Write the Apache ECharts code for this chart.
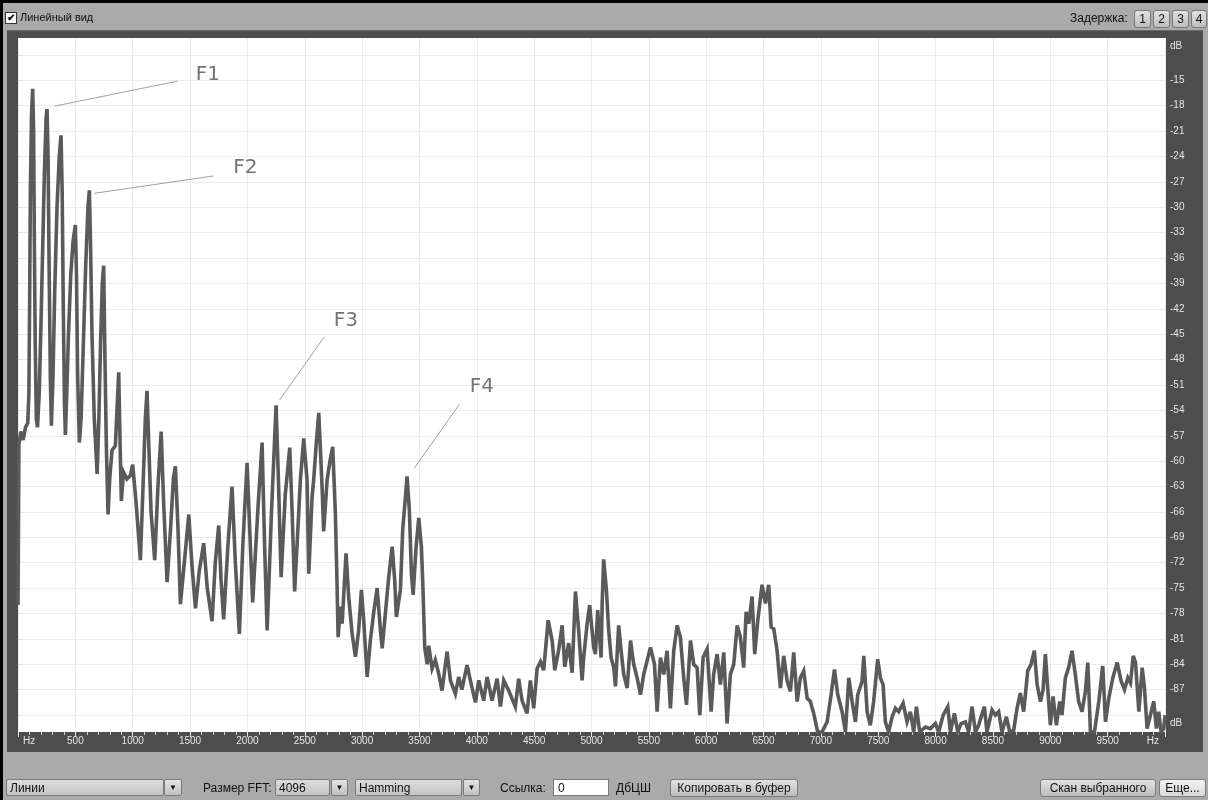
<!DOCTYPE html>
<html><head><meta charset="utf-8">
<script src="https://cdn.jsdelivr.net/npm/echarts@6/dist/echarts.min.js"></script>
<style>
html,body{margin:0;padding:0;}
body{width:1208px;height:800px;overflow:hidden;background:#aaaaaa;position:relative;font-family:"Liberation Sans",Arial,sans-serif;font-size:12px;color:#111;}
.abs{position:absolute;}
#topline{left:0;top:0;width:1208px;height:3px;background:#000;}
#leftline{left:0;top:0;width:3px;height:800px;background:#000;}
#frame{left:7px;top:30px;width:1196px;height:722px;background:#4d4d4d;border-top:1px solid #6a6a6a;box-sizing:border-box;}
#chart{left:0;top:0;width:1208px;height:800px;}
.chk{left:5px;top:12px;width:10px;height:10px;background:#fff;border:1px solid #333;font-size:10px;line-height:10px;text-align:center;font-weight:bold;color:#111;}
.lbl{white-space:nowrap;line-height:16px;}
.btn{height:16px;line-height:16px;border:1px solid #7a7a7a;border-radius:3px;background:linear-gradient(#e2e2e2,#bdbdbd);text-align:center;box-sizing:content-box;white-space:nowrap;}
.combo{height:17px;line-height:17px;border:1px solid #7a7a7a;border-radius:2px;background:linear-gradient(#dcdcdc,#c4c4c4);padding-left:3px;box-sizing:border-box;white-space:nowrap;}
.arrow{height:17px;border:1px solid #7a7a7a;border-radius:2px;background:linear-gradient(#e4e4e4,#c0c0c0);box-sizing:border-box;text-align:center;font-size:8px;line-height:16px;}
.input{height:17px;line-height:17px;border:1px solid #7a7a7a;background:#fff;padding-left:4px;box-sizing:border-box;}
</style>
</head><body>
<div class="abs" id="frame"></div>
<div class="abs" id="chart"></div>
<div class="abs" id="topline"></div>
<div class="abs" id="leftline"></div>
<div class="abs chk">✔</div>
<div class="abs lbl" style="left:20px;top:9px;font-size:11px;">Линейный вид</div>
<div class="abs lbl" style="left:1070px;top:10px;font-size:12px;">Задержка:</div>
<div class="abs btn" style="left:1134px;top:10px;width:15px;">1</div>
<div class="abs btn" style="left:1153px;top:10px;width:15px;">2</div>
<div class="abs btn" style="left:1172px;top:10px;width:15px;">3</div>
<div class="abs btn" style="left:1191px;top:10px;width:14px;">4</div>

<div class="abs combo" style="left:6px;top:779px;width:158px;">Линии</div>
<div class="abs arrow" style="left:164px;top:779px;width:18px;">▼</div>
<div class="abs lbl" style="left:203px;top:780px;">Размер FFT:</div>
<div class="abs combo" style="left:275px;top:779px;width:55px;">4096</div>
<div class="abs arrow" style="left:331px;top:779px;width:17px;">▼</div>
<div class="abs combo" style="left:355px;top:779px;width:107px;">Hamming</div>
<div class="abs arrow" style="left:463px;top:779px;width:17px;">▼</div>
<div class="abs lbl" style="left:500px;top:780px;">Ссылка:</div>
<div class="abs input" style="left:553px;top:779px;width:56px;">0</div>
<div class="abs lbl" style="left:616px;top:780px;">ДбЦШ</div>
<div class="abs btn" style="left:670px;top:779px;width:126px;">Копировать в буфер</div>
<div class="abs btn" style="left:1040px;top:779px;width:114px;">Скан выбранного</div>
<div class="abs btn" style="left:1159px;top:779px;width:45px;background:linear-gradient(#f2f2f2,#d8d8d8);">Еще...</div>

<script>
// ---- data ----
const freqHz = [0,8,25,45,65,85,95,102,108,118,128,136,142,150,160,170,185,200,215,230,245,253,262,272,282,291,305,320,340,360,375,385,395,405,413,425,440,460,480,500,510,520,535,550,570,590,610,622,632,645,665,690,705,720,735,747,758,770,785,800,820,849,866,878,890,901,920,950,979,1000,1030,1067,1090,1110,1125,1140,1160,1192,1220,1248,1270,1300,1330,1355,1372,1395,1416,1450,1489,1515,1547,1580,1619,1650,1692,1720,1750,1770,1793,1830,1866,1895,1930,1960,1997,2020,2046,2090,2128,2150,2172,2210,2250,2270,2294,2330,2369,2390,2412,2447,2462,2491,2520,2535,2564,2578,2600,2622,2651,2665,2695,2720,2744,2767,2782,2791,2811,2826,2860,2883,2913,2942,2970,2994,3014,3044,3072,3100,3131,3160,3175,3203,3230,3262,3284,3299,3334,3354,3378,3392,3412,3430,3445,3471,3494,3517,3529,3546,3567,3581,3610,3638,3668,3697,3741,3770,3813,3842,3870,3915,3944,3988,4017,4060,4090,4133,4177,4206,4235,4278,4336,4365,4395,4438,4467,4496,4526,4555,4583,4622,4657,4680,4714,4744,4767,4801,4831,4860,4888,4918,4932,4962,4984,5019,5034,5054,5084,5093,5106,5130,5150,5171,5194,5209,5237,5258,5281,5311,5340,5368,5398,5427,5455,5514,5549,5572,5601,5630,5659,5688,5717,5747,5775,5804,5828,5863,5891,5921,5944,5973,6008,6043,6065,6095,6124,6153,6182,6211,6240,6270,6298,6327,6348,6371,6400,6423,6450,6487,6516,6545,6566,6589,6618,6647,6676,6706,6734,6763,6793,6821,6850,6880,6908,6937,6972,7010,7054,7089,7118,7147,7185,7214,7243,7272,7301,7321,7359,7374,7403,7431,7460,7495,7519,7542,7562,7591,7621,7650,7678,7717,7751,7780,7809,7833,7861,7911,7955,7998,8027,8066,8106,8129,8164,8193,8222,8260,8288,8318,8347,8375,8425,8448,8492,8521,8550,8579,8617,8646,8681,8710,8739,8768,8803,8832,8861,8885,8914,8937,8957,8977,9001,9024,9053,9082,9102,9131,9160,9189,9218,9247,9277,9306,9327,9350,9385,9423,9457,9481,9510,9545,9583,9618,9647,9676,9699,9723,9743,9772,9801,9821,9844,9873,9902,9925,9945,9966,9989,10000];
const levelDb = [-77,-58,-56.5,-57.5,-56,-55.5,-52,-40,-28,-19,-16,-21,-33,-46,-55,-56,-52,-44,-35,-26,-19.5,-18.4,-24,-38,-50,-55.8,-50,-40,-30,-24,-21.5,-28,-42,-53,-56.9,-52,-45,-38,-34,-32.1,-38,-50,-57.8,-55,-46,-37,-30,-28,-34,-45,-55,-61.5,-55,-46,-39,-36.9,-48,-58,-66.3,-62,-58.7,-58.2,-53,-49.5,-58,-64.7,-61.3,-62.1,-61.7,-60.4,-65,-71.7,-63,-55,-51.7,-58,-66,-71.7,-63,-56.5,-65,-74.3,-68,-62,-60.6,-68,-76.9,-72,-66.3,-72,-77.4,-73,-69.7,-75,-78.9,-72,-67.6,-74,-78.7,-70,-63,-72,-80.4,-70,-60.2,-68,-76.7,-66,-57.8,-70,-80,-66,-53.4,-62,-73.7,-64,-58.4,-66,-75.4,-66.2,-62.2,-57.3,-62.2,-73.3,-64.2,-62.2,-58,-54.3,-63,-68.3,-62.2,-60,-58.3,-66.2,-74.8,-80.8,-77.2,-79.2,-70.9,-76,-80.4,-83.1,-80,-75.2,-78.8,-85.5,-81.2,-78,-75,-80,-82.1,-78,-74,-70.1,-74,-78.4,-75.2,-68.1,-64.2,-61.8,-65.8,-73.3,-75.8,-70.1,-66.7,-70.1,-74.4,-82,-84,-81.8,-84.5,-83.5,-85.1,-87.1,-82.5,-85.9,-87.5,-85.5,-87,-84.1,-85.9,-88.5,-85.9,-88.3,-85.5,-88.3,-85.7,-89,-85.9,-87.1,-89,-85.7,-88.3,-89.8,-85.9,-89.2,-84.5,-83.7,-84.7,-78.8,-81.2,-84.7,-82.3,-79.4,-84.3,-81.5,-85,-75.4,-80,-85.9,-83.2,-79.2,-77,-82,-82.8,-77.6,-83.2,-76.8,-71.6,-75.2,-80,-83.2,-84.4,-86.6,-79.4,-82.4,-85.2,-86.8,-81.2,-84,-85.6,-87.6,-85.2,-82,-84,-89.6,-83.2,-85.2,-82.4,-89.2,-82.4,-79.4,-80.8,-85.6,-88.8,-81.2,-84,-84.4,-90,-83.2,-82.2,-89.6,-85.2,-82.8,-86.4,-82.6,-91,-85.2,-84,-79.4,-80.8,-84.4,-77.8,-79.2,-76,-82.8,-78.8,-74.6,-76.8,-74.6,-79.6,-79.8,-82.4,-86.8,-83,-86,-87.2,-82.6,-88.4,-85.6,-84.8,-88,-88.4,-89.8,-92,-92,-90.8,-87.6,-84.6,-87.6,-89.6,-92,-85.6,-88.4,-90.8,-87.6,-86,-83,-89.6,-91.2,-88.4,-83.4,-85.6,-86.4,-90.8,-92,-90.2,-89.2,-89.6,-88.6,-90.8,-89.6,-92,-89,-92,-91.4,-91.6,-91,-92,-90,-89,-92,-89.8,-92,-91,-90.8,-92,-89,-92,-91.2,-89,-92,-89.4,-90,-89.6,-92,-90.2,-92,-91.8,-89.2,-87.4,-89.6,-84.8,-84,-82.4,-86.4,-88.4,-87,-82.8,-86.8,-91.2,-87.8,-91.2,-88.4,-90,-85.6,-84.4,-82.4,-85.2,-88.4,-89.6,-87.2,-83.8,-92,-92,-88.4,-84.2,-90.8,-88,-85.6,-83.8,-86,-87,-85.6,-86.2,-83,-83.8,-89.6,-84.4,-86.8,-91.6,-90,-88.4,-91.6,-89.6,-92,-91.6,-90];

const yGridDb = [-90,-87,-84,-81,-78,-75,-72,-69,-66,-63,-60,-57,-54,-51,-48,-45,-42,-39,-36,-33,-30,-27,-24,-21,-18,-15,-12];
const yLabelDb = [-91,-87,-84,-81,-78,-75,-72,-69,-66,-63,-60,-57,-54,-51,-48,-45,-42,-39,-36,-33,-30,-27,-24,-21,-18,-15,-11];
const yUnitDb = [-91,-11];          // label positions that show the unit "dB"
const xUnitHz = [0,10000];          // label positions that show the unit "Hz"

const noteNames = ['F1','F2','F3','F4'];
const noteTipHz = [317,666,2279,3456];
const noteTipDb = [-18.05,-28.35,-52.8,-60.8];
const noteEndHz = [1390,1704,2671,3848];
const noteEndDb = [-15.1,-26.3,-45.3,-53.3];
const noteTextHz = [1656,1982,2859,4045];
const noteTextDb = [-14.3,-25.3,-43.4,-51.2];

const spectrum = freqHz.map((f,i)=>[f, levelDb[i]]);

const chart = echarts.init(document.getElementById('chart'), null, {renderer:'canvas'});
const labelFont = '"Liberation Sans", Arial, sans-serif';
chart.setOption({
  animation:false,
  backgroundColor:'transparent',
  grid:{left:18,right:43,top:38,bottom:68,show:true,backgroundColor:'#ffffff',borderWidth:0,containLabel:false},
  xAxis:{
    type:'value',min:0,max:10000,interval:500,
    axisLine:{show:false},
    axisTick:{show:true,length:5,lineStyle:{color:'#e8e8e8',width:1}},
    minorTick:{show:true,splitNumber:5,length:3,lineStyle:{color:'#d0d0d0',width:1}},
    splitLine:{show:true,lineStyle:{color:'#ececec',width:1}},
    axisLabel:{
      color:'#e6e6e6',fontSize:10,fontFamily:labelFont,margin:4,
      showMinLabel:true,showMaxLabel:true,
      alignMinLabel:'left',alignMaxLabel:'right',
      formatter:function(v){
        if(v===xUnitHz[0]) return '{l|Hz}';
        if(v===xUnitHz[1]) return '{r|Hz}';
        return String(v);
      },
      rich:{l:{padding:[0,0,0,5],color:'#e6e6e6',fontSize:10,fontFamily:labelFont},r:{padding:[0,6,0,0],color:'#e6e6e6',fontSize:10,fontFamily:labelFont}}
    }
  },
  yAxis:{
    type:'value',position:'right',min:-92,max:-10,
    axisLine:{show:false},
    axisTick:{show:true,length:3,customValues:yGridDb,lineStyle:{color:'#d8d8d8'}},
    splitLine:{show:true,lineStyle:{color:'#ececec',width:1}},
    axisLabel:{
      customValues:yLabelDb,
      color:'#e6e6e6',fontSize:10,fontFamily:labelFont,margin:5,
      formatter:function(v){ return yUnitDb.indexOf(v)>=0 ? 'dB' : String(v); }
    }
  },
  series:[{
    type:'line',data:spectrum,showSymbol:false,symbol:'none',
    lineStyle:{color:'#5a5a5a',width:3.6,join:'miter',miterLimit:4},
    clip:true,silent:true
  }]
});

const graphics = [];
noteNames.forEach((n,i)=>{
  const a = chart.convertToPixel({gridIndex:0},[noteTipHz[i],noteTipDb[i]]);
  const b = chart.convertToPixel({gridIndex:0},[noteEndHz[i],noteEndDb[i]]);
  const t = chart.convertToPixel({gridIndex:0},[noteTextHz[i],noteTextDb[i]]);
  graphics.push({type:'line',shape:{x1:a[0],y1:a[1],x2:b[0],y2:b[1]},style:{stroke:'#a0a0a0',lineWidth:1},silent:true,z:10});
  graphics.push({type:'text',x:t[0],y:t[1],style:{text:n,fill:'#747474',font:'20px "DejaVu Sans", sans-serif',align:'center',verticalAlign:'middle'},silent:true,z:10});
});
chart.setOption({graphic:graphics});
</script>
</body></html>
